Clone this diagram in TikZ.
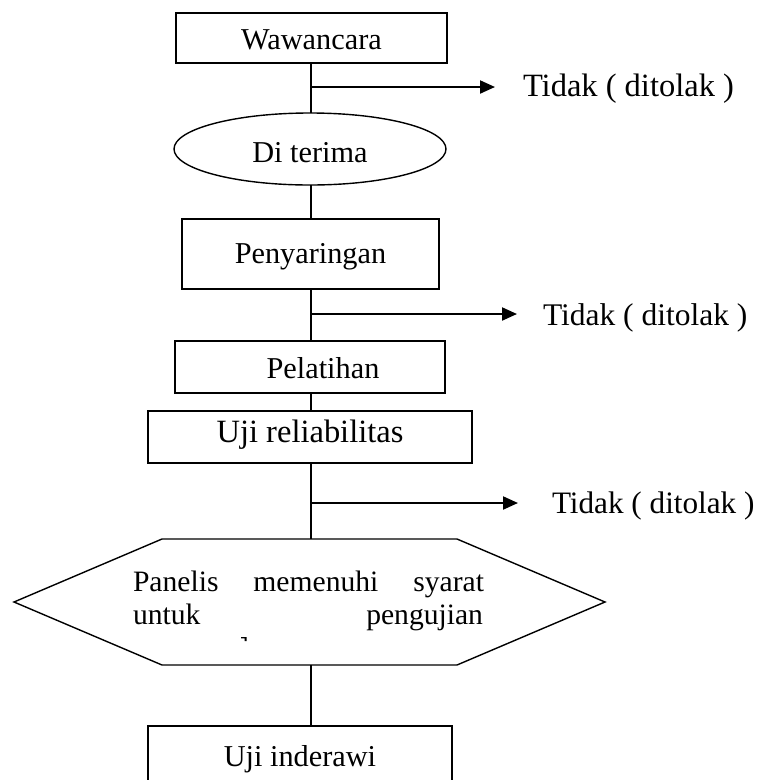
\documentclass[tikz,border=0pt]{standalone}
\usepackage{fontspec}
\setmainfont{Liberation Serif}
\usetikzlibrary{arrows.meta,shapes.geometric}
\begin{document}
\begin{tikzpicture}[x=1pt,y=-1pt,
  every node/.style={inner sep=0pt, outer sep=0pt, font=\fontsize{30.3}{33}\selectfont},
  stepbox/.style={draw, line width=1.4pt, rectangle},
  oval/.style={draw, line width=1.4pt, ellipse},
  link/.style={line width=1.4pt},
  reject/.style={line width=2.1pt, -{Triangle[length=15pt,width=13pt]}},
  note/.style={anchor=base west, font=\fontsize{31.5}{34}\selectfont},
  hexline/.style={anchor=base west, font=\fontsize{29.6}{33}\selectfont}]
\useasboundingbox (0,0) rectangle (761,780);
\clip (0,0) rectangle (761,780);

% main steps
\node[stepbox, minimum width=271pt, minimum height=50pt, text height=22pt, text depth=0pt] (waw) at (311.5,38) {Wawancara};
\node[oval, minimum width=272pt, minimum height=72pt, text height=26pt, text depth=0pt] (acc) at (310,149) {Di terima};
\node[stepbox, minimum width=257pt, minimum height=70pt, text height=20pt, text depth=2pt] (scr) at (310.5,254) {Penyaringan};
\node[stepbox, minimum width=270pt, minimum height=52pt, text height=22pt, text depth=0pt] (trn) at (310,367) {\hspace*{26pt}Pelatihan};
\node[stepbox, minimum width=324pt, minimum height=52pt, text height=21pt, text depth=11pt, font=\fontsize{32.5}{34}\selectfont] (rel) at (310,437) {Uji reliabilitas};

% decision hexagon
\node[minimum width=591pt, minimum height=126pt] (hex) at (309.5,602) {};
\draw[link] (hex.west) -- ([xshift=148pt]hex.north west) -- ([xshift=-148pt]hex.north east)
  -- (hex.east) -- ([xshift=-148pt]hex.south east) -- ([xshift=148pt]hex.south west) -- cycle;
\node[hexline] (q1) at (133,591) {\makebox[351pt][s]{Panelis memenuhi syarat}};
\node[hexline] (q2) at (133,624) {\makebox[350pt][s]{untuk pengujian}};
% cut-off top of the third line
\fill (241,637) -- (246.5,637) -- (246.5,641) -- (244.5,641) -- (244.5,638.3) -- (241,638.3) -- cycle;

\node[stepbox, minimum width=304pt, minimum height=60pt, text height=20pt, text depth=0pt] (sens) at (300,756) {Uji inderawi};

% vertical spine
\coordinate (spine) at (311,0);
\draw[link] (waw.south -| spine) -- (acc.north -| spine);
\draw[link] (acc.south -| spine) -- (scr.north -| spine);
\draw[link] (scr.south -| spine) -- (trn.north -| spine);
\draw[link] (trn.south -| spine) -- (rel.north -| spine);
\draw[link] (rel.south -| spine) -- (hex.north -| spine);
\draw[link] (hex.south -| spine) -- (sens.north -| spine);

% rejection branches
\coordinate (b1) at (311,87);  \coordinate (e1) at (495,87);
\coordinate (b2) at (311,314); \coordinate (e2) at (517,314);
\coordinate (b3) at (311,503); \coordinate (e3) at (518,503);
\draw[reject] (b1) -- (e1);
\draw[reject] (b2) -- (e2);
\draw[reject] (b3) -- (e3);
\node[note, font=\fontsize{32.5}{34}\selectfont] (n1) at (523,96) {Tidak ( ditolak )};
\node[note] (n2) at (543,325) {Tidak ( ditolak )};
\node[note, font=\fontsize{31.2}{34}\selectfont] (n3) at (552,513) {Tidak ( ditolak )};
\end{tikzpicture}
\end{document}
